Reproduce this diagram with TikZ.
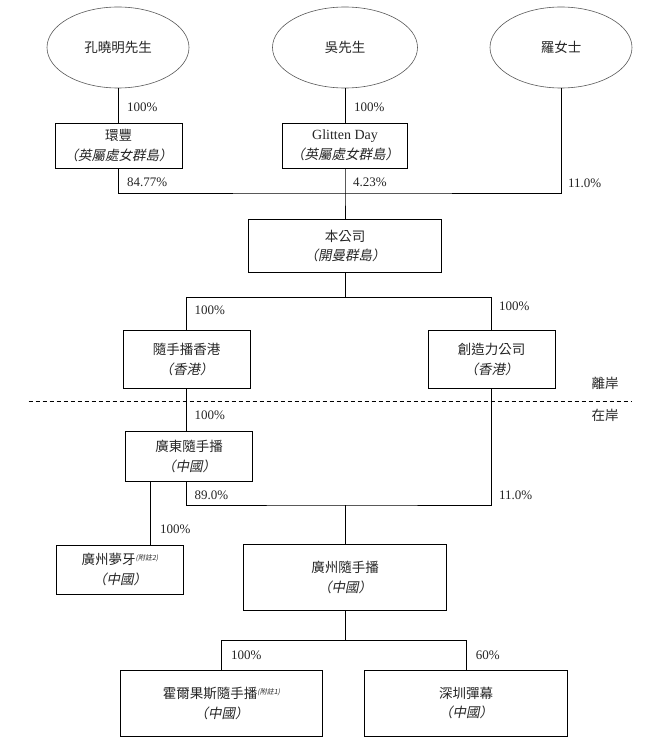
\documentclass[tikz,border=0pt]{standalone}
\usepackage{fontspec}
\setmainfont{Liberation Serif}
\newfontfamily\latn{Liberation Serif}
\newfontfamily\cjk{Noto Sans CJK TC}
\newfontfamily\cjki[FakeSlant=0.2]{Noto Sans CJK TC}
\usetikzlibrary{shapes.geometric}
\newcommand{\fnote}[1]{\raisebox{4pt}{\cjki\fontsize{7}{7}\selectfont(附註#1)}}
\begin{document}
\begin{tikzpicture}[x=1pt,y=-1pt,
  own/.style={ellipse, draw=black!65, line width=0.6pt, minimum width=142pt, minimum height=81pt, inner sep=0pt, text=black!85, font=\cjk\fontsize{13.5}{16}\selectfont},
  ent/.style={draw, line width=0.8pt, inner sep=0pt, align=center, text=black!85, font=\cjk\fontsize{13.5}{19.5}\selectfont},
  pct/.style={anchor=west, inner sep=0pt, text=black!85, font=\latn\fontsize{13}{13}\selectfont},
  zone/.style={inner sep=0pt, text=black!85, font=\cjk\fontsize{13.5}{16}\selectfont},
  link/.style={line width=0.8pt},
  sep/.style={line width=0.7pt, dash pattern=on 4pt off 3pt}]
\useasboundingbox (0,0) rectangle (660,752);
\fill[white] (0,0) rectangle (660,752);

% owners
\node[own] (e1) at (118,47.5) {孔曉明先生};
\node[own, minimum width=145pt] (e2) at (345,47.5) {吳先生};
\node[own] (e3) at (561,47.5) {羅女士};

% BVI holding companies
\node[ent, minimum width=127pt, minimum height=45pt] (b1) at (118.5,145.5) {環豐\\{\cjki （英屬處女群島）}};
\node[ent, minimum width=125pt, minimum height=45pt] (b2) at (345,145.5) {{\latn\fontsize{14}{14}\selectfont Glitten Day}\\{\cjki （英屬處女群島）}};

% company
\node[ent, minimum width=193pt, minimum height=53pt] (bc) at (345,245.8) {本公司\\{\cjki （開曼群島）}};

% HK subsidiaries
\node[ent, minimum width=127pt, minimum height=57.6pt] (bh) at (186.5,359.5) {隨手播香港\\{\cjki （香港）}};
\node[ent, minimum width=127pt, minimum height=57.6pt] (bk) at (491.5,359.5) {創造力公司\\{\cjki （香港）}};

% PRC
\node[ent, minimum width=127pt, minimum height=49.6pt] (bg) at (189,456.5) {廣東隨手播\\{\cjki （中國）}};
\node[ent, minimum width=127pt, minimum height=48.7pt] (bm) at (120,569.6) {廣州夢牙\fnote{2}\\{\cjki （中國）}};
\node[ent, minimum width=203pt, minimum height=66pt] (bz) at (345,577.3) {廣州隨手播\\{\cjki （中國）}};
\node[ent, minimum width=201.6pt, minimum height=65.5pt] (bx) at (221.5,703.2) {霍爾果斯隨手播\fnote{1}\\{\cjki （中國）}};
\node[ent, minimum width=202.4pt, minimum height=65.5pt] (bs) at (466,703.2) {深圳彈幕\\{\cjki （中國）}};

% junctions
\coordinate (j1) at (345,193);
\coordinate (j2) at (345,297.3);
\coordinate (j3) at (345,505);
\coordinate (j4) at (345,640.5);
\coordinate (cm) at (150.3,0);

% connectors
\draw[link] (e1.south) -- (b1.north -| e1.south);
\draw[link] (e2.south) -- (b2.north);
\draw[link] (b1.south -| e1.south) |- (j1) -| (e3.south);
\draw[link] (b2.south) -- (j1) -- (bc.north);
\draw[link] (bc.south) -- (j2);
\draw[link] (bh.north) |- (j2) -| (bk.north);
\draw[link] (bh.south) -- (bg.north -| bh.south);
\draw[link] (bg.south -| bh.south) |- (j3) -| (bk.south);
\draw[link] (j3) -- (bz.north);
\draw[link] (bg.south -| cm) -- (bm.north -| cm);
\draw[link] (bz.south) -- (j4);
\draw[link] (bx.north) |- (j4) -| (bs.north);

% on/offshore divider
\coordinate (dl) at (28.6,401.7);
\coordinate (dr) at (631.6,401.7);
\draw[sep] (dl) -- (dr);
\node[zone] (off) at (605,383) {離岸};
\node[zone] (on) at (605,415) {在岸};

% percentages
\node[pct] (p1) at (127,107) {100\%};
\node[pct] (p2) at (354,107) {100\%};
\node[pct] (p3) at (127,182) {84.77\%};
\node[pct] (p4) at (353,182) {4.23\%};
\node[pct] (p5) at (568,183) {11.0\%};
\node[pct] (p6) at (194.5,310) {100\%};
\node[pct] (p7) at (499,306) {100\%};
\node[pct] (p8) at (194.5,415) {100\%};
\node[pct] (p9) at (194.5,495) {89.0\%};
\node[pct] (p10) at (499,495) {11.0\%};
\node[pct] (p11) at (160,529) {100\%};
\node[pct] (p12) at (231,655) {100\%};
\node[pct] (p13) at (475.7,655) {60\%};
\end{tikzpicture}
\end{document}
